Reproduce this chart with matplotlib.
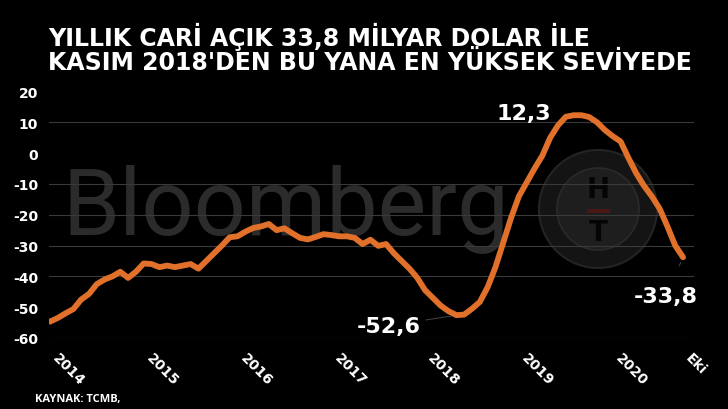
import numpy as np
import matplotlib
matplotlib.use("Agg")
import matplotlib.pyplot as plt
from matplotlib.patches import Circle, Rectangle

# ---- data (12-month rolling current account balance, bn USD), Jan 2014 .. Oct 2020
values = [
    -54.7, -53.5, -52.0, -50.6, -47.5, -45.7, -42.5, -41.0, -40.0, -38.5, -40.5, -38.5,   # 2014
    -35.8, -36.0, -37.0, -36.5, -37.0, -36.5, -36.0, -37.5, -35.0, -32.5, -30.0, -27.3,   # 2015
    -27.0, -25.5, -24.3, -23.8, -23.0, -25.0, -24.4, -26.0, -27.5, -28.0, -27.2, -26.3,   # 2016
    -26.6, -27.0, -27.0, -27.5, -29.5, -28.1, -30.1, -29.5, -32.5, -35.0, -37.5, -40.5,   # 2017
    -44.5, -47.0, -49.5, -51.3, -52.6, -52.4, -50.5, -48.3, -43.5, -37.0, -29.0, -21.0,   # 2018
    -14.0, -9.5, -5.0, -0.8, 5.0, 9.0, 11.8, 12.3, 12.3, 11.7, 10.0, 7.5,                 # 2019
    5.5, 3.8, -1.5, -6.5, -10.6, -14.0, -18.0, -23.8, -30.0, -33.8,                       # 2020
]
tick_labels = ["2014", "2015", "2016", "2017", "2018", "2019", "2020", "Eki"]
tick_months = [0, 12, 24, 36, 48, 60, 72, 81]
y_ticks = [20, 10, 0, -10, -20, -30, -40, -50, -60]
grid_levels = [10, -10, -20, -30, -40, -60]
annotated_months = [67, 52, 81]      # peak, trough, latest
title = "YILLIK CARİ AÇIK 33,8 MİLYAR DOLAR İLE\nKASIM 2018'DEN BU YANA EN YÜKSEK SEVİYEDE"
source = "KAYNAK: TCMB,"

x = np.arange(len(values))
y = np.array(values)

BG = "black"
ORANGE = "#E0702A"

fig = plt.figure(figsize=(7.28, 4.10), dpi=100, facecolor=BG)
ax = fig.add_axes([49/728, 1-339/410, (694-49)/728, (339-92.5)/410])
ax.set_facecolor(BG)

# watermark
ax.text(63/728, 1-235/410, "Bloomberg", transform=fig.transFigure, fontsize=66,
        family="Roboto", weight="normal", color="#2b2b2b", va="baseline", ha="left",
        zorder=0.3, clip_on=False)
# HT logo watermark
cx, cy = 5.98, (410-210)/100
ax.add_patch(Circle((cx, cy), 0.59, transform=fig.dpi_scale_trans, facecolor="#141414",
                    edgecolor="#242424", lw=1.5, zorder=0.3, clip_on=False))
ax.add_patch(Circle((cx, cy), 0.41, transform=fig.dpi_scale_trans, facecolor="#1e1e1e",
                    edgecolor="#2a2a2a", lw=1.2, zorder=0.31, clip_on=False))
ax.text(cx, (410-190)/100, "H", transform=fig.dpi_scale_trans, fontsize=20, weight="bold",
        color="#050505", ha="center", va="center", zorder=0.32)
ax.add_patch(Rectangle((5.87, (410-214)/100), 0.23, 0.04, transform=fig.dpi_scale_trans,
                       facecolor="#4a1616", zorder=0.32, clip_on=False))
ax.text(cx, (410-233)/100, "T", transform=fig.dpi_scale_trans, fontsize=20, weight="bold",
        color="#050505", ha="center", va="center", zorder=0.32)

for g in grid_levels:
    ax.axhline(g, color="#3a3a3a", lw=0.8, zorder=1)

ax.plot(x, y, color=ORANGE, lw=4.2, solid_capstyle="round", solid_joinstyle="round", zorder=3)

ax.set_xlim(-0.12, 82.4)
ax.set_ylim(-60, 20)
ax.set_yticks(y_ticks)
ax.set_yticklabels([str(v) for v in y_ticks])
ax.set_xticks(tick_months)
ax.set_xticklabels(tick_labels, rotation=-45, ha="left", va="top")
ax.tick_params(axis="both", length=0, colors="white")
ax.tick_params(axis="y", pad=8)
ax.tick_params(axis="x", pad=9)
for lab in ax.get_yticklabels() + ax.get_xticklabels():
    lab.set_fontweight("bold")
    lab.set_fontsize(10)
    lab.set_color("white")
for s in ax.spines.values():
    s.set_visible(False)

def fmt(v):
    return f"{v:.1f}".replace(".", ",")

ann = dict(fontsize=16, weight="bold", color="white", textcoords="offset points")
i_pk, i_tr, i_last = annotated_months
ax.annotate(fmt(y[i_pk]), xy=(x[i_pk], y[i_pk]), xytext=(-16, -3),
            ha="right", va="baseline", **ann)
ax.annotate(fmt(y[i_tr]), xy=(x[i_tr], y[i_tr]), xytext=(-26, -12),
            ha="right", va="baseline",
            arrowprops=dict(arrowstyle="-", color="#444444", lw=0.7, shrinkA=2, shrinkB=4), **ann)
ax.annotate(fmt(y[i_last]), xy=(x[i_last], y[i_last]), xytext=(10.5, -32.5),
            ha="right", va="baseline",
            arrowprops=dict(arrowstyle="-", color="#444444", lw=0.7, shrinkA=14, shrinkB=4), **ann)

fig.text(48/728, 1-23/410, title, fontsize=17, weight="bold", color="white",
         ha="left", va="top", linespacing=1.0, family="DejaVu Sans")
fig.text(35/728, 1-400/410, source, fontsize=8, weight="bold", color="white",
         ha="left", va="center", family="Open Sans")

fig.savefig("out.png", dpi=100, facecolor=BG)
